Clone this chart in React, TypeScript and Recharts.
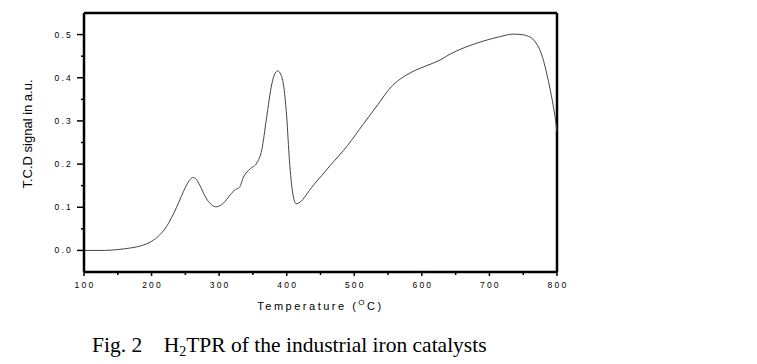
import { LineChart, Line, XAxis, YAxis, ReferenceLine } from "recharts"

// H2-TPR trace
const temperature = [
  100, 130, 150, 170, 185, 200, 212, 222, 230, 237, 244, 250, 256, 261, 266, 272, 279, 286, 295,
  306, 316, 324, 330, 336, 346, 356, 363, 370, 378, 383, 387, 391, 395, 400, 404, 409, 414,
  440, 464, 490, 513, 535, 553, 568, 578, 590, 607, 627, 642, 665, 691, 715, 735, 748, 756,
  764, 770, 775, 780, 785, 790, 795, 798, 800,
]
const signal = [
  0.0, 0.0, 0.002, 0.006, 0.011, 0.021, 0.036, 0.055, 0.077, 0.1, 0.125, 0.146, 0.162, 0.169, 0.165, 0.149, 0.126, 0.11, 0.101,
  0.109, 0.128, 0.141, 0.146, 0.17, 0.189, 0.203, 0.232, 0.305, 0.386, 0.411, 0.416, 0.408, 0.386, 0.309, 0.209, 0.132, 0.108,
  0.152, 0.196, 0.243, 0.292, 0.338, 0.376, 0.397, 0.407, 0.417, 0.428, 0.441, 0.455, 0.471, 0.485, 0.495, 0.501, 0.5, 0.497,
  0.49, 0.478, 0.463, 0.44, 0.408, 0.372, 0.33, 0.3, 0.275,
]

const xTicks = [100, 150, 200, 250, 300, 350, 400, 450, 500, 550, 600, 650, 700, 750, 800]
const yTicks = [0, 0.05, 0.1, 0.15, 0.2, 0.25, 0.3, 0.35, 0.4, 0.45, 0.5]

const data = temperature.map((t, i) => ({ t, v: signal[i] }))

const tickFont = { fontFamily: "Liberation Sans, Arial, sans-serif", fontSize: 8.5, letterSpacing: 2.2 }

function XTick({ x, y, payload }: any) {
  const major = payload.value % 100 === 0
  return (
    <g>
      <line x1={x} y1={y} x2={x} y2={y + (major ? 4 : 3)} stroke="#000" strokeWidth={1.5} />
      {major && (
        <text x={x + 1} y={y + 16} textAnchor="middle" fill="#000" style={tickFont}>
          {payload.value}
        </text>
      )}
    </g>
  )
}

function YTick({ x, y, payload }: any) {
  const v = payload.value
  const major = Math.abs(v * 10 - Math.round(v * 10)) < 1e-6
  return (
    <g>
      <line x1={x} y1={y} x2={x - (major ? 7 : 3)} y2={y} stroke="#000" strokeWidth={1.5} />
      {major && (
        <text x={x - 11} y={y + 3} textAnchor="end" fill="#000" style={tickFont}>
          {v.toFixed(1)}
        </text>
      )}
    </g>
  )
}

export default function App() {
  return (
    <div style={{ position: "absolute", left: 0, top: 0, width: 757, height: 364, background: "#fff" }}>
      <LineChart width={757} height={364} data={data} margin={{ top: 13, right: 200, bottom: 72, left: 64 }}>
        <XAxis
          dataKey="t"
          type="number"
          domain={[100, 800]}
          ticks={xTicks}
          interval={0}
          height={20}
          tickSize={0}
          tickMargin={0}
          tickLine={false}
          tick={<XTick />}
          axisLine={{ stroke: "#000", strokeWidth: 2.5 }}
        />
        <YAxis
          type="number"
          domain={[-0.05, 0.55]}
          ticks={yTicks}
          interval={0}
          width={20}
          tickSize={0}
          tickMargin={0}
          tickLine={false}
          tick={<YTick />}
          axisLine={{ stroke: "#000", strokeWidth: 2.5 }}
        />
        <ReferenceLine y={0.55} stroke="#000" strokeWidth={2.5} />
        <ReferenceLine x={800} stroke="#000" strokeWidth={2.5} />
        <Line
          dataKey="v"
          type="monotone"
          stroke="#444"
          strokeWidth={1}
          dot={false}
          isAnimationActive={false}
        />
      </LineChart>
      <svg width={757} height={364} style={{ position: "absolute", left: 0, top: 0, pointerEvents: "none" }}>
        <text
          x={32}
          y={134}
          transform="rotate(-90 32 134)"
          textAnchor="middle"
          fill="#000"
          style={{ fontFamily: "Liberation Sans, Arial, sans-serif", fontSize: 13 }}
        >
          T.C.D signal in a.u.
        </text>
        <text
          x={320.5}
          y={310}
          textAnchor="middle"
          fill="#000"
          style={{ fontFamily: "Liberation Sans, Arial, sans-serif", fontSize: 11, letterSpacing: 2.5 }}
        >
          Temperature (<tspan dy={-5} fontSize={8}>O</tspan>
          <tspan dy={5}>C)</tspan>
        </text>
        <text
          x={92}
          y={352}
          fill="#000"
          style={{ fontFamily: "Liberation Serif, Times New Roman, serif", fontSize: 21.5, whiteSpace: "pre" }}
        >
          Fig. 2    H<tspan dy={4} fontSize={14}>2</tspan>
          <tspan dy={-4}>TPR of the industrial iron catalysts</tspan>
        </text>
      </svg>
    </div>
  )
}
